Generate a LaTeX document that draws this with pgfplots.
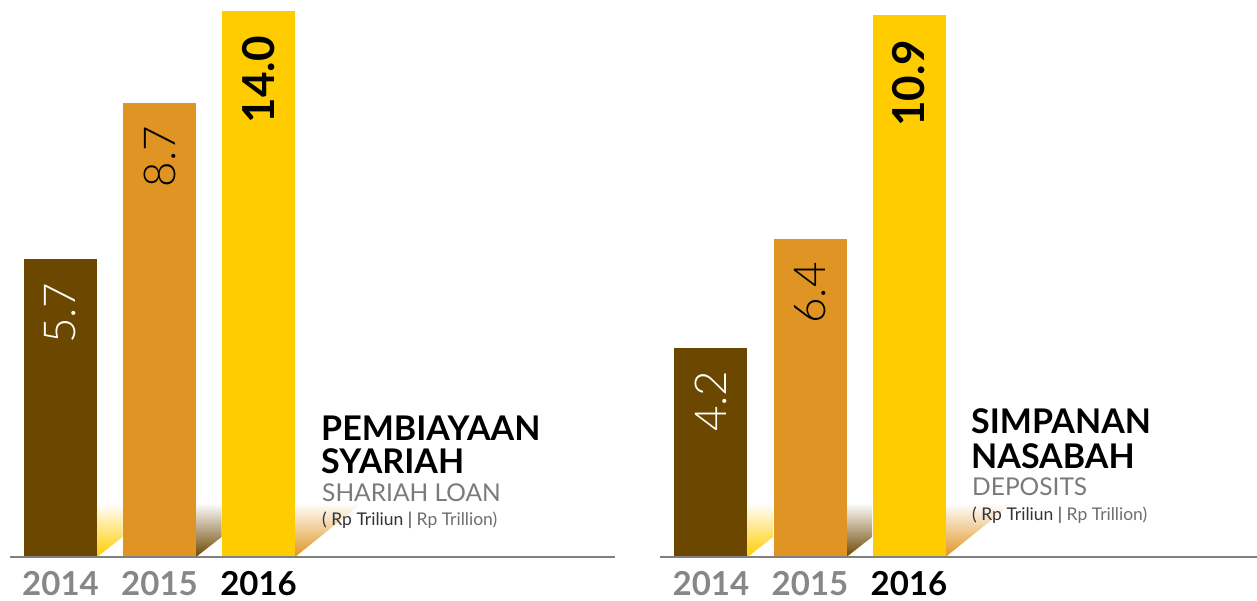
\documentclass[border=0pt]{standalone}
\usepackage{pgfplots}
\pgfplotsset{compat=1.18}
\usepackage{fontspec}
\setmainfont{Lato}
\newfontfamily\latolight{Lato Light}
\definecolor{cbrown}{HTML}{6C4700}
\definecolor{corange}{HTML}{DF9423}
\definecolor{cyellow}{HTML}{FFCC00}
\definecolor{ygray}{HTML}{87878A}
\definecolor{axgray}{HTML}{808080}
\definecolor{subgray}{HTML}{7A7A7A}
\definecolor{brgray}{HTML}{6E6E6E}
\definecolor{brdark}{HTML}{333333}
\newcommand\lightnum{\latolight\fontsize{44}{44}\selectfont}
\newcommand\boldnum{\bfseries\fontsize{44}{44}\selectfont}
\newcommand\yearfont{\bfseries\fontsize{33}{33}\selectfont}
\newcommand\shadowmid[2]{% #1 = x index, #2 = colour
  \shade[top color=white, bottom color=#2]
    ([xshift=36.5pt]axis cs:#1,0) --
    ([xshift=36.5pt,yshift=54pt]axis cs:#1,0) --
    ([xshift=62pt,yshift=54pt]axis cs:#1,0) --
    ([xshift=62pt,yshift=20pt]axis cs:#1,0) -- cycle;}
\newcommand\shadowend[2]{%
  \shade[top color=white, bottom color=#2]
    ([xshift=36.5pt]axis cs:#1,0) --
    ([xshift=36.5pt,yshift=54pt]axis cs:#1,0) --
    ([xshift=103.5pt,yshift=54pt]axis cs:#1,0) -- cycle;}
\pgfplotsset{panel/.style={
  scale only axis, height=545pt, ymin=0,
  hide axis, clip mode=individual,
  anchor=south west,
}}
\begin{document}
\begin{tikzpicture}
\useasboundingbox (0,0) rectangle (1257pt,600pt);
% ---------------- left panel ----------------
\begin{axis}[panel, at={(10pt,43pt)}, width=605pt,
  xmin=-0.51, xmax=5.60, ymax=10.44]
\shadowmid{0}{cyellow}
\shadowmid{1}{cbrown}
\shadowend{2}{corange}
\addplot[ybar, bar width=73pt, fill=cbrown, draw=none] coordinates {(0,5.7)};
\addplot[ybar, bar width=73pt, fill=corange, draw=none] coordinates {(1,8.7)};
\addplot[ybar, bar width=73pt, fill=cyellow, draw=none] coordinates {(2,14.0)};
\draw[axgray, line width=1.3pt] (rel axis cs:0,0) -- (rel axis cs:1,0);
\node[rotate=90, anchor=east, inner sep=0pt, text=white, font=\lightnum] at ([yshift=-23pt]axis cs:0,5.7) {5.7};
\node[rotate=90, anchor=east, inner sep=0pt, text=black, font=\lightnum] at ([yshift=-23pt]axis cs:1,8.7) {8.7};
\node[rotate=90, anchor=east, inner sep=0pt, text=black, font=\boldnum] at ([yshift=-24pt]axis cs:2,10.44) {14.0};
\node[anchor=base, inner sep=0pt, text=ygray, font=\yearfont] at ([yshift=-38pt]axis cs:0,0) {2014};
\node[anchor=base, inner sep=0pt, text=ygray, font=\yearfont] at ([yshift=-38pt]axis cs:1,0) {2015};
\node[anchor=base, inner sep=0pt, text=black, font=\yearfont] at ([yshift=-38pt]axis cs:2,0) {2016};
\end{axis}
% ---------------- right panel ----------------
\begin{axis}[panel, at={(660pt,43pt)}, width=597pt,
  xmin=-0.515, xmax=5.515, ymax=10.97]
\shadowmid{0}{cyellow}
\shadowmid{1}{cbrown}
\shadowend{2}{corange}
\addplot[ybar, bar width=73pt, fill=cbrown, draw=none] coordinates {(0,4.2)};
\addplot[ybar, bar width=73pt, fill=corange, draw=none] coordinates {(1,6.4)};
\addplot[ybar, bar width=73pt, fill=cyellow, draw=none] coordinates {(2,10.9)};
\draw[axgray, line width=1.3pt] (rel axis cs:0,0) -- (rel axis cs:1,0);
\node[rotate=90, anchor=east, inner sep=0pt, text=white, font=\lightnum] at ([yshift=-22pt]axis cs:0,4.2) {4.2};
\node[rotate=90, anchor=east, inner sep=0pt, text=black, font=\lightnum] at ([yshift=-23pt]axis cs:1,6.4) {6.4};
\node[rotate=90, anchor=east, inner sep=0pt, text=black, font=\boldnum] at ([yshift=-24pt]axis cs:2,10.9) {10.9};
\node[anchor=base, inner sep=0pt, text=ygray, font=\yearfont] at ([yshift=-38pt]axis cs:0,0) {2014};
\node[anchor=base, inner sep=0pt, text=ygray, font=\yearfont] at ([yshift=-38pt]axis cs:1,0) {2015};
\node[anchor=base, inner sep=0pt, text=black, font=\yearfont] at ([yshift=-38pt]axis cs:2,0) {2016};
\end{axis}
% ---------------- titles ----------------
\begin{scope}[every node/.style={anchor=base west, inner sep=0pt}]
\node[font=\bfseries\fontsize{34}{34}\selectfont] at (321pt,160pt) {PEMBIAYAAN};
\node[font=\bfseries\fontsize{34}{34}\selectfont] at (321pt,127pt) {SYARIAH};
\node[font=\fontsize{24.5}{24.5}\selectfont, text=subgray] at (322pt,99pt) {SHARIAH LOAN};
\node[font=\fontsize{17.5}{17.5}\selectfont] at (322pt,75pt) {\textcolor{brdark}{( Rp Triliun |} \textcolor{brgray}{Rp Trillion)}};
\node[font=\bfseries\fontsize{34}{34}\selectfont] at (971pt,167pt) {SIMPANAN};
\node[font=\bfseries\fontsize{34}{34}\selectfont] at (971pt,132pt) {NASABAH};
\node[font=\fontsize{24.5}{24.5}\selectfont, text=subgray] at (972pt,105pt) {DEPOSITS};
\node[font=\fontsize{17.5}{17.5}\selectfont] at (972pt,80pt) {\textcolor{brdark}{( Rp Triliun |} \textcolor{brgray}{Rp Trillion)}};
\end{scope}
\end{tikzpicture}
\end{document}
